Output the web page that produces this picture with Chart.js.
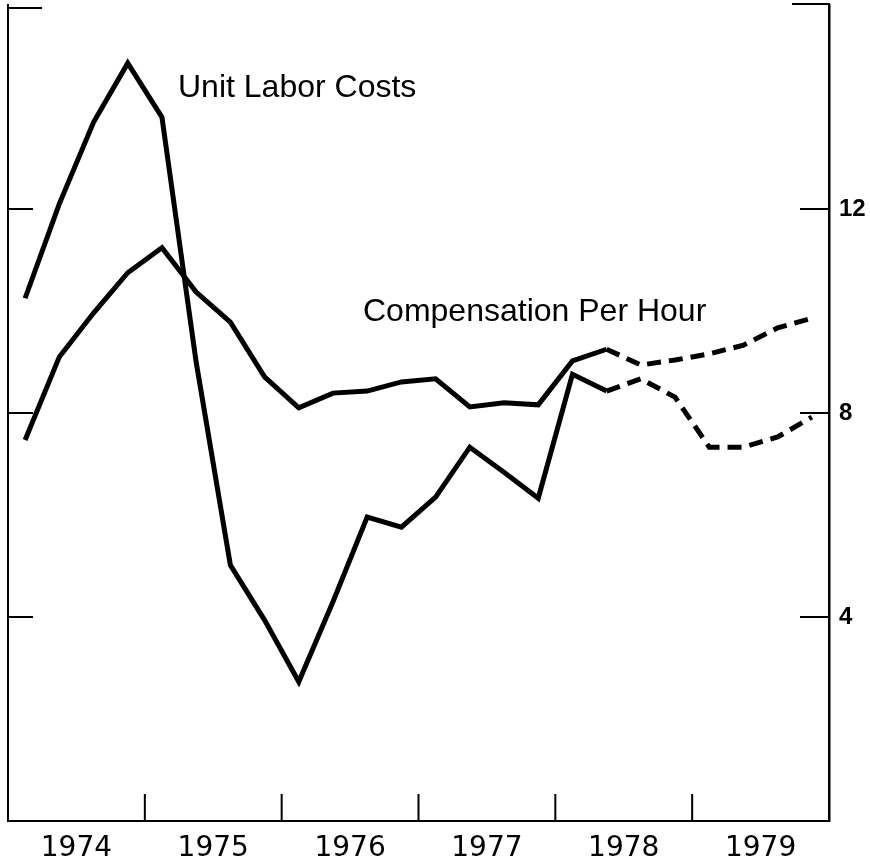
<!DOCTYPE html>
<html>
<head>
<meta charset="utf-8">
<script src="https://cdn.jsdelivr.net/npm/chart.js@4"></script>
<style>
  html, body { margin: 0; padding: 0; background: #fff; }
  canvas { display: block; }
</style>
</head>
<body>
<canvas id="laborChart" width="870" height="864"></canvas>
<script>
// quarterly, percent change, 1974 Q1 .. 1979 Q4 (from 1978 Q3 on: projection)
const years = ["1974", "1975", "1976", "1977", "1978", "1979"];
const unitLaborCosts = [
  10.25, 12.1, 13.7, 14.86,
  13.8, 9.0, 5.02, 3.94,
  2.73, 4.3, 5.96, 5.76,
  6.35, 7.33, 6.84, 6.33,
  8.76, 8.43, 8.67, 8.31,
  7.33, 7.33, 7.53, 7.92
];
const compensationPerHour = [
  7.47, 9.1, 9.96, 10.75,
  11.24, 10.37, 9.78, 8.71,
  8.1, 8.39, 8.43, 8.61,
  8.67, 8.12, 8.2, 8.16,
  9.02, 9.25, 8.94, 9.04,
  9.16, 9.33, 9.67, 9.86
];
const rightTicks = [4, 8, 12];
const projectionStart = 17; // segments after 1978 Q2 are dashed

const font = "'Liberation Sans', Arial, Helvetica, sans-serif";
const toPoints = values => values.map((v, i) => ({ x: i + 0.5, y: v }));
const dashAfter = ctx => (ctx.p0DataIndex >= projectionStart ? [14, 8] : undefined);
const noPad = scale => {
  scale.paddingTop = 0;
  scale.paddingBottom = 0;
  scale.paddingLeft = 0;
  scale.paddingRight = 0;
};

const frameMarks = {
  id: "frameMarks",
  afterDraw(chart) {
    const { ctx, chartArea } = chart;
    const { left, right, top, bottom } = chartArea;
    const y = chart.scales.y;
    const x = chart.scales.x;
    ctx.save();
    ctx.strokeStyle = "#000";
    ctx.lineWidth = 2;
    ctx.beginPath();
    rightTicks.forEach(v => {
      const py = y.getPixelForValue(v);
      ctx.moveTo(left, py);
      ctx.lineTo(left + 25, py);
      ctx.moveTo(right - 29, py);
      ctx.lineTo(right, py);
    });
    for (let i = 1; i < years.length; i++) {
      const px = x.getPixelForValue(i * 4);
      ctx.moveTo(px, bottom);
      ctx.lineTo(px, bottom - 27);
    }
    ctx.moveTo(left - 1, top + 3);
    ctx.lineTo(left + 34, top + 3);
    ctx.moveTo(right - 37, top - 1);
    ctx.lineTo(right + 1, top - 1);
    ctx.stroke();

    ctx.fillStyle = "#000";
    ctx.font = "32px " + font;
    ctx.textBaseline = "alphabetic";
    ctx.textAlign = "left";
    ctx.fillText("Unit Labor Costs", 178, 97);
    ctx.fillText("Compensation Per Hour", 363, 321);
    ctx.restore();
  }
};

new Chart(document.getElementById("laborChart").getContext("2d"), {
  type: "line",
  data: {
    datasets: [
      {
        label: "Unit Labor Costs",
        data: toPoints(unitLaborCosts),
        borderColor: "#000",
        borderWidth: 5,
        borderJoinStyle: "miter",
        pointRadius: 0,
        tension: 0,
        segment: { borderDash: dashAfter }
      },
      {
        label: "Compensation Per Hour",
        data: toPoints(compensationPerHour),
        borderColor: "#000",
        borderWidth: 5,
        borderJoinStyle: "miter",
        pointRadius: 0,
        tension: 0,
        segment: { borderDash: dashAfter }
      }
    ]
  },
  options: {
    responsive: false,
    animation: false,
    layout: { padding: { top: 5, left: 0, right: 0, bottom: 0 } },
    plugins: {
      legend: { display: false },
      tooltip: { enabled: false }
    },
    scales: {
      x: {
        type: "linear",
        min: 0,
        max: years.length * 4,
        afterBuildTicks: scale => {
          scale.ticks = years.map((_, i) => ({ value: i * 4 + 2 }));
        },
        afterFit: scale => { scale.height = 43; noPad(scale); },
        ticks: {
          callback: v => years[(v - 2) / 4],
          color: "#000",
          padding: 3,
          maxRotation: 0,
          autoSkip: false,
          font: { family: "'DejaVu Sans', sans-serif", size: 28 }
        },
        grid: { display: false },
        border: { display: true, color: "#000", width: 2 }
      },
      y: {
        position: "left",
        min: 0,
        max: 16,
        afterFit: scale => { scale.width = 8; noPad(scale); },
        ticks: { display: false },
        grid: { display: false },
        border: { display: true, color: "#000", width: 2 }
      },
      y2: {
        position: "right",
        min: 0,
        max: 16,
        afterBuildTicks: scale => {
          scale.ticks = rightTicks.map(v => ({ value: v }));
        },
        afterFit: scale => { scale.width = 41; noPad(scale); },
        ticks: {
          color: "#000",
          padding: 10,
          font: { family: font, size: 24, weight: "bold" }
        },
        grid: { display: false, drawTicks: false },
        border: { display: true, color: "#000", width: 2.5 }
      }
    }
  },
  plugins: [frameMarks]
});
</script>
</body>
</html>
